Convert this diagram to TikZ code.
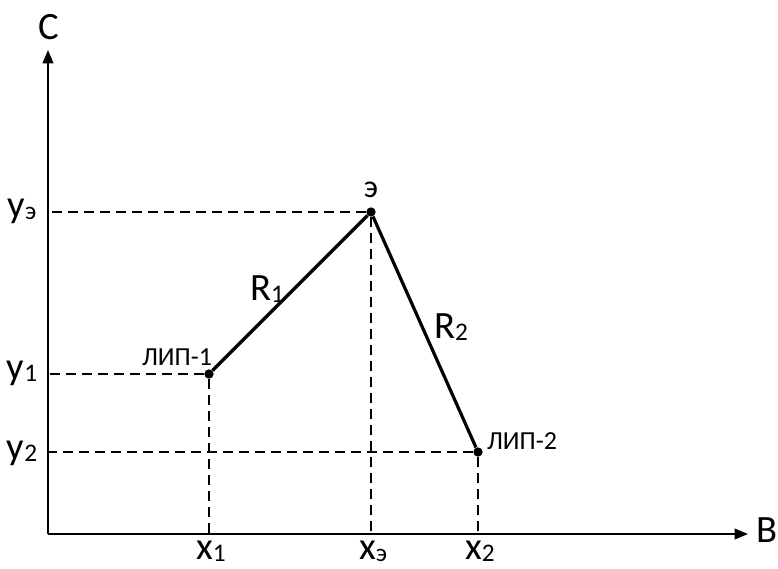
\documentclass[tikz,border=0pt]{standalone}
\usepackage{fontspec}
\setmainfont{Carlito}
\usetikzlibrary{arrows.meta, positioning, calc}

\newcommand{\lowix}[1]{\raisebox{-1.5pt}{\fontsize{19}{19}\selectfont #1}}

\begin{document}
\begin{tikzpicture}[x=0.75pt, y=-0.75pt,
  axisline/.style={line width=1.3pt, -{Triangle[length=10pt, width=8pt]}},
  guide/.style={line width=1.1pt, dash pattern=on 7.5pt off 4.5pt},
  route/.style={line width=2.4pt},
  dot/.style={circle, fill=black, inner sep=0pt, minimum size=7pt},
  ptlabel/.style={font=\fontsize{19.5}{21}\selectfont, inner sep=0pt},
  axlabel/.style={font=\fontsize{29}{31}\selectfont, inner sep=0pt}]
  \useasboundingbox (0,0) rectangle (778,568);

  % axes
  \coordinate (O) at (48,534);
  \coordinate (ytop) at (48,50);
  \coordinate (xend) at (748,534);
  \draw[axisline] (O) -- (ytop);
  \draw[axisline] (O) -- (xend);
  \node[axlabel] (labC) at (49,27) {С};
  \node[axlabel] (labB) at (767,530) {В};

  % points
  \node[dot] (lip1) at (209,374) {};
  \node[dot] (pe) at (371,212) {};
  \node[dot] (lip2) at (478,452) {};

  \draw[route] (lip1) -- (pe) -- (lip2);

  % projections onto the axes
  \foreach \p in {lip1, pe, lip2} {
    \draw[guide] (\p) -- (\p -| O);
    \draw[guide] (\p) -- (\p |- O);
  }

  % tick labels
  \node[axlabel] (ye) at (22,211) {y\lowix{э}};
  \node[axlabel] (y1) at (22,373) {y\lowix{1}};
  \node[axlabel] (y2) at (22,453) {y\lowix{2}};
  \node[axlabel] (x1) at (211,551) {x\lowix{1}};
  \node[axlabel] (xe) at (373,551) {x\lowix{э}};
  \node[axlabel] (x2) at (480,551) {x\lowix{2}};

  % point and segment labels
  \node[ptlabel] (nlip1) at (177,357) {ЛИП-1};
  \node[axlabel] (ne) at (371,190) {\fontsize{24}{26}\selectfont э};
  \node[ptlabel] (nlip2) at (522,441) {ЛИП-2};
  \node[axlabel] (r1) at (267,289) {R\lowix{1}};
  \node[axlabel] (r2) at (451,327) {R\lowix{2}};
\end{tikzpicture}
\end{document}
